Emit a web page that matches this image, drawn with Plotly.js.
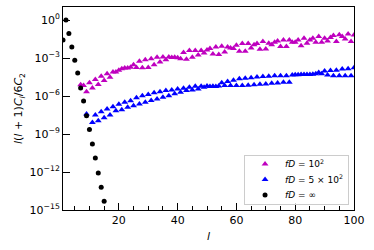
<!DOCTYPE html>
<html>
<head>
<meta charset="utf-8">
<script src="https://cdn.plot.ly/plotly-3.0.1.min.js"></script>
<style>html,body{margin:0;padding:0;background:#fff;}#chart{width:374px;height:250px;}</style>
</head>
<body>
<div id="chart"></div>
<script>
// multipole l for each series
const lInf = [1,2,3,4,5,6,7,8,9,10,11,12,13,14,15];
const valInf = [2.6e-2,1.0,8.7e-2,7.6e-3,6.6e-4,6.5e-5,4.4e-6,4.0e-7,2.8e-8,2.3e-9,1.6e-10,1.3e-11,8.5e-13,6.3e-14,5.0e-15];

const l100 = [7,8,9,10,11,12,13,14,15,16,17,18,19,20,21,22,23,24,25,26,27,28,29,30,
  31,32,33,34,35,36,37,38,39,40,41,42,43,44,45,46,47,48,49,50,
  51,52,53,54,55,56,57,58,59,60,61,62,63,64,65,66,67,68,69,70,
  71,72,73,74,75,76,77,78,79,80,81,82,83,84,85,86,87,88,89,90,
  91,92,93,94,95,96,97,98,99,100];
const val100 = [7.6e-6,6.8e-6,2.2e-6,1.1e-5,4.4e-6,2.0e-5,8.1e-6,3.7e-5,1.7e-5,5.8e-5,3.1e-5,7.8e-5,7.8e-5,1.1e-4,1.4e-4,1.6e-4,1.6e-4,1.9e-4,3.0e-4,1.8e-4,
  5.5e-4,1.7e-4,7.4e-4,1.8e-4,8.9e-4,3.0e-4,1.15e-3,4.9e-4,1.2e-3,7.4e-4,1.2e-3,1.1e-3,1.15e-3,1.07e-3,8.9e-4,2.7e-3,7.9e-4,3.9e-3,1.15e-3,3.9e-3,1.7e-3,3.9e-3,2.5e-3,4.4e-3,
  5.6e-3,2.1e-3,7.6e-3,1.9e-3,8.5e-3,3.0e-3,7.6e-3,6.3e-3,5.6e-3,1.0e-2,3.4e-3,1.4e-2,3.4e-3,1.4e-2,6.3e-3,1.1e-2,1.4e-2,4.9e-3,2.0e-2,5.2e-3,
  1.5e-2,1.1e-2,1.8e-2,2.2e-2,8.1e-3,2.7e-2,8.1e-3,2.7e-2,1.8e-2,1.8e-2,2.7e-2,9.5e-3,3.7e-2,1.5e-2,2.7e-2,3.7e-2,1.8e-2,5.0e-2,1.8e-2,3.7e-2,
  2.2e-2,4.2e-2,6.0e-2,2.0e-2,6.8e-2,5.0e-2,3.2e-2,7.8e-2,2.0e-2,6.5e-2];

const l500 = [9,11,12,13,14,15,16,17,18,19,20,21,22,23,24,25,26,27,28,29,30,
  31,32,33,34,35,36,37,38,39,40,41,42,43,44,45,46,47,48,49,50,
  51,52,53,54,55,56,57,58,59,60,61,62,63,64,65,66,67,68,69,70,
  71,72,73,74,75,76,77,78,79,80,81,82,83,84,85,86,87,88,89,90,
  91,92,93,94,95,96,97,98,99,100];
const val500 = [3.8e-8,8.1e-9,3.2e-8,1.1e-8,5.8e-8,1.9e-8,9.3e-8,3.2e-8,1.4e-7,6.9e-8,2.2e-7,8.3e-8,3.2e-7,1.3e-7,4.3e-7,1.7e-7,7.2e-7,2.3e-7,1.07e-6,3.2e-7,1.3e-6,
  4.4e-7,1.8e-6,5.9e-7,2.2e-6,7.9e-7,2.7e-6,1.07e-6,3.0e-6,1.5e-6,3.6e-6,2.0e-6,4.2e-6,2.7e-6,5.0e-6,3.0e-6,6.0e-6,3.6e-6,6.0e-6,5.0e-6,6.3e-6,
  5.6e-6,6.0e-6,5.6e-6,6.3e-6,1.1e-5,6.8e-6,1.4e-5,6.8e-6,1.8e-5,6.8e-6,2.3e-5,6.8e-6,2.5e-5,7.1e-6,2.8e-5,7.6e-6,3.2e-5,8.5e-6,3.5e-5,9.1e-6,
  3.7e-5,1.0e-5,4.0e-5,1.07e-5,4.0e-5,1.2e-5,4.0e-5,1.2e-5,4.5e-5,4.7e-5,4.8e-5,5.0e-5,5.0e-5,5.0e-5,5.0e-5,5.2e-5,5.8e-5,7.2e-5,5.8e-5,9.3e-5,
  4.5e-5,1.05e-4,4.0e-5,1.1e-4,4.0e-5,1.35e-4,4.0e-5,1.45e-4,4.0e-5,1.7e-4];

const yTickVals = [1e-15,1e-12,1e-9,1e-6,1e-3,1];
const yTickText = ['10<sup>−15</sup>','10<sup>−12</sup>','10<sup>−9</sup>','10<sup>−6</sup>','10<sup>−3</sup>','10<sup>0</sup>'];
const xTickVals = [20,40,60,80,100];

const names = ['<i>fD</i> = 10<sup>2</sup>','<i>fD</i> = 5 × 10<sup>2</sup>','<i>fD</i> = ∞'];

const traces = [
  {x:l100, y:val100, type:'scatter', mode:'markers', name:names[0],
   marker:{symbol:'triangle-up', size:6, color:'#bf00bf'}},
  {x:l500, y:val500, type:'scatter', mode:'markers', name:names[1],
   marker:{symbol:'triangle-up', size:6, color:'#0000ff'}},
  {x:lInf, y:valInf, type:'scatter', mode:'markers', name:names[2],
   marker:{symbol:'circle', size:5, color:'#000000'}}
];

const font = {family:'DejaVu Sans, sans-serif', size:11, color:'#000'};
const layout = {
  width:374, height:250,
  margin:{l:63, r:20, t:7, b:40},
  paper_bgcolor:'#fff', plot_bgcolor:'#fff',
  font:font,
  showlegend:true,
  legend:{x:0.983, y:0.025, xanchor:'right', yanchor:'bottom',
    bgcolor:'rgba(255,255,255,0.8)', bordercolor:'#cccccc', borderwidth:1,
    font:{family:'DejaVu Sans, sans-serif', size:9, color:'#000'},
    itemwidth:30, tracegroupgap:0},
  xaxis:{range:[1,100], tickvals:xTickVals, ticks:'inside', ticklen:7, tickwidth:1, tickcolor:'#000',
    showline:true, linecolor:'#000', linewidth:1, mirror:true, showgrid:false, zeroline:false,
    minor:{dtick:5, ticks:'inside', ticklen:4, tickcolor:'#000', showgrid:false},
    title:{text:'<i>l</i>', font:{family:'DejaVu Sans, sans-serif', size:11}, standoff:6},
    tickfont:font},
  yaxis:{type:'log', range:[-15,1.03], tickvals:yTickVals, ticktext:yTickText, ticks:'inside', ticklen:7,
    tickwidth:1, tickcolor:'#000', showline:true, linecolor:'#000', linewidth:1, mirror:true,
    showgrid:false, zeroline:false,
    title:{text:'<i>l</i>(<i>l</i> + 1)<i>C<sub>l</sub></i>/6<i>C</i><sub>2</sub>', font:{family:'DejaVu Sans, sans-serif', size:11}, standoff:4},
    tickfont:font}
};

function parseT(s){
  const m = /translate\(\s*([-\d.e]+)[ ,]+([-\d.e]+)\s*\)/.exec(s || '');
  return m ? {x:+m[1], y:+m[2]} : {x:0, y:0};
}

Plotly.newPlot('chart', traces, layout, {staticPlot:true, displayModeBar:false}).then(function(gd){
  // tighten legend row spacing to match the reference
  const leg = gd.querySelector('.legend');
  if (!leg) return;
  const items = leg.querySelectorAll('g.traces');
  if (items.length < 2) return;
  const p0 = parseT(items[0].getAttribute('transform'));
  const p1 = parseT(items[1].getAttribute('transform'));
  const oldStep = p1.y - p0.y;
  const step = 15.5;
  const top = 9;
  const shiftFirst = p0.y - top;
  items.forEach(function(it, i){
    const p = parseT(it.getAttribute('transform'));
    it.setAttribute('transform', 'translate(' + p.x + ',' + (top + i*step) + ')');
  });
  const bg = leg.querySelector('rect.bg');
  if (bg) {
    const h = +bg.getAttribute('height');
    const newH = top*2 + (items.length - 1)*step;
    bg.setAttribute('height', newH);
    const lt = parseT(leg.getAttribute('transform'));
    leg.setAttribute('transform', 'translate(' + lt.x + ',' + (lt.y + (h - newH)) + ')');
  }
});
</script>
</body>
</html>
